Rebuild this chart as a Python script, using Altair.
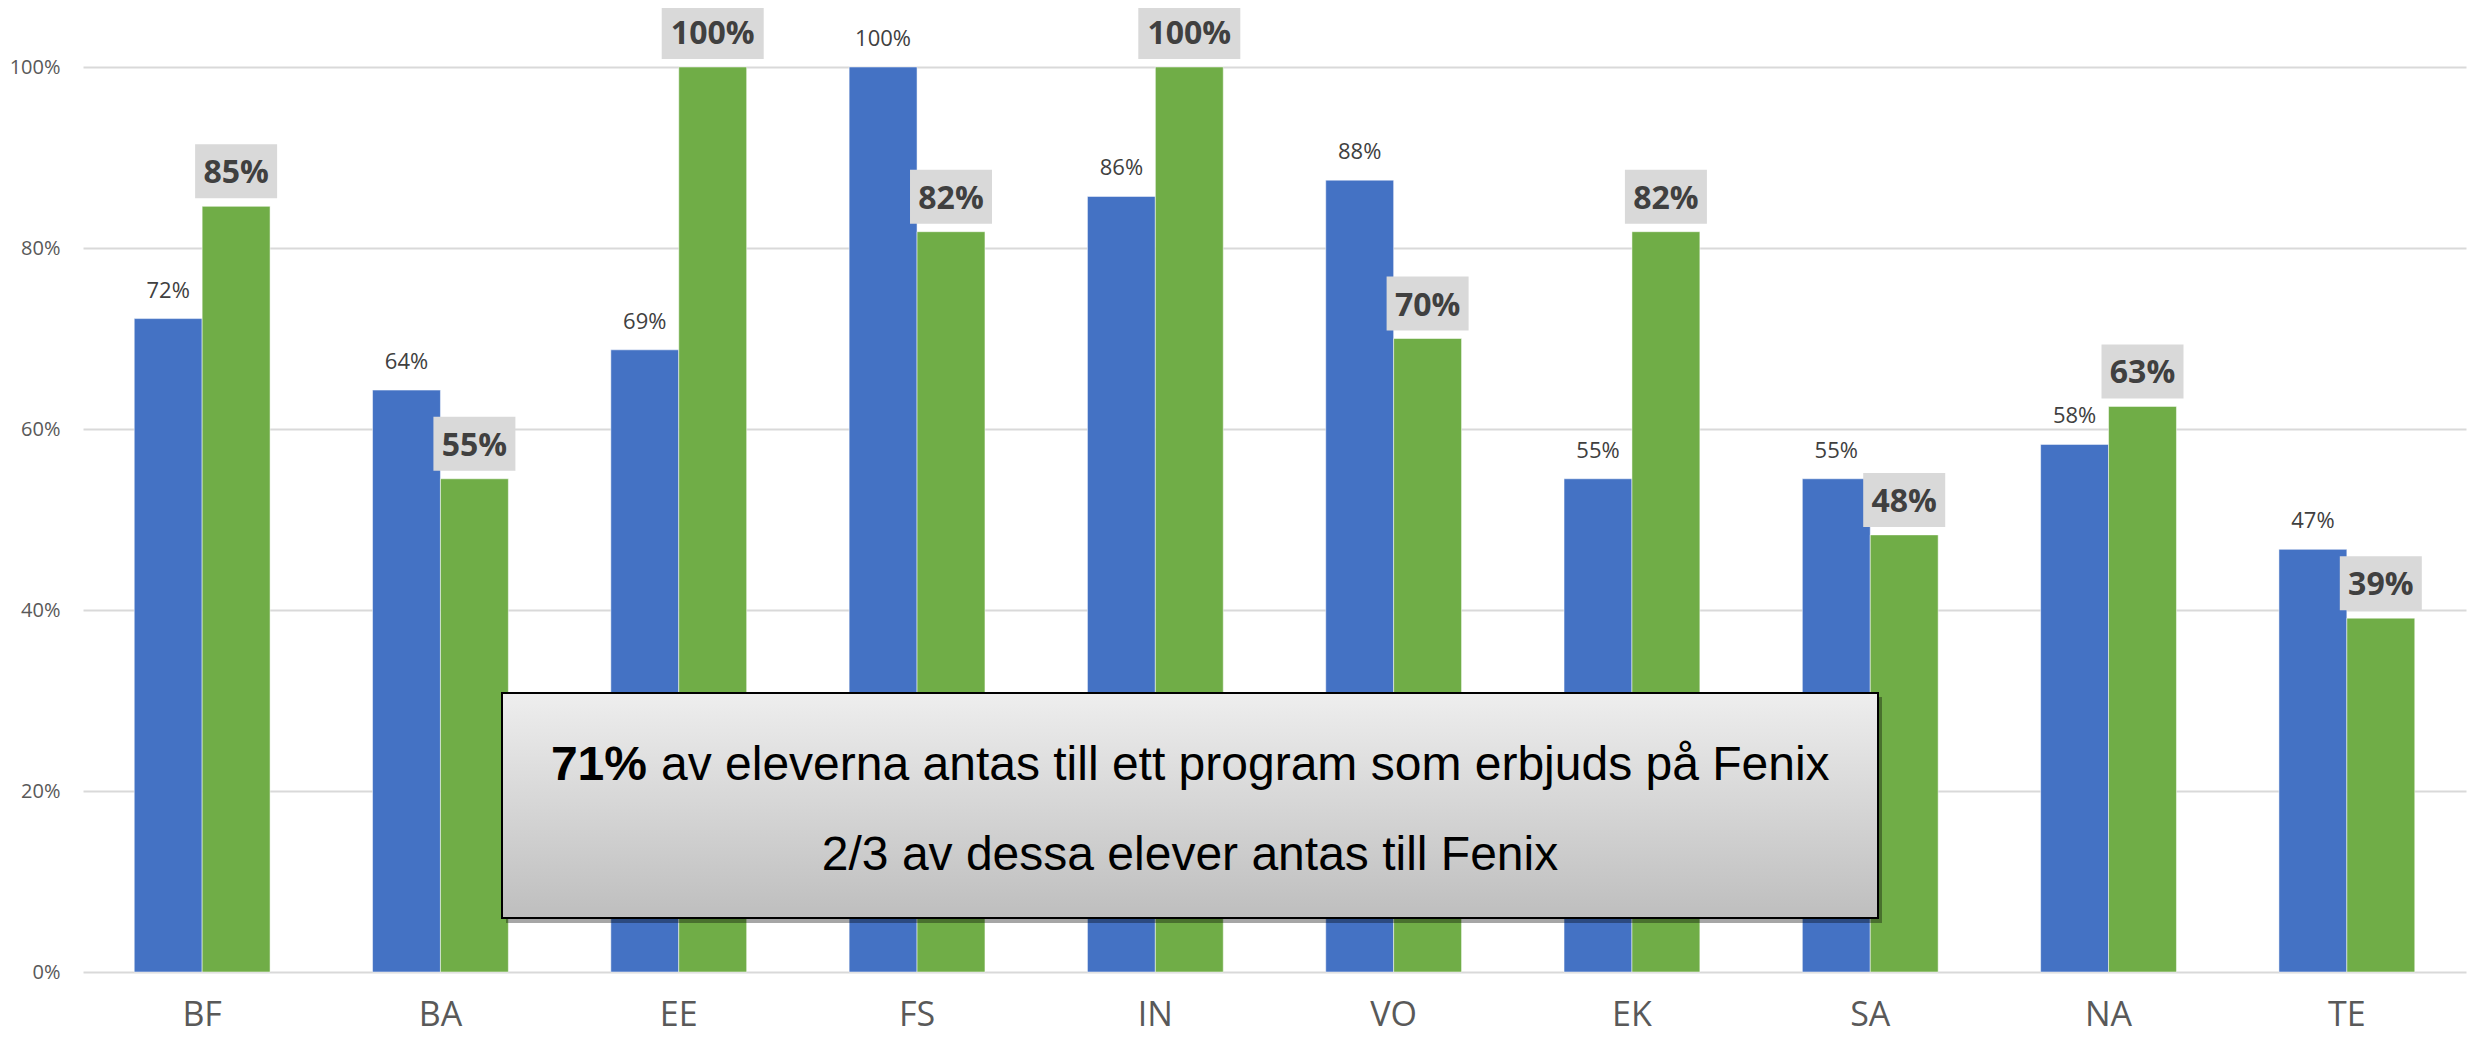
import altair as alt
import pandas as pd

programs = ["BF", "BA", "EE", "FS", "IN", "VO", "EK", "SA", "NA", "TE"]
blue_vals = [0.722, 0.643, 0.6875, 1.0, 0.857, 0.875, 0.545, 0.545, 0.583, 0.467]
green_vals = [0.846, 0.545, 1.0, 0.818, 1.0, 0.70, 0.818, 0.483, 0.625, 0.391]
series = ["Antas till program på Fenix", "Antas till Fenix"]
y_ticks = [0, 0.2, 0.4, 0.6, 0.8, 1.0]
box_line1_bold = "71%"
box_line1_rest = "av eleverna antas till ett program som erbjuds på Fenix"
box_line2 = "2/3 av dessa elever antas till Fenix"

BLUE = "#4472C4"
GREEN = "#70AD47"

rows = []
for p, b, g in zip(programs, blue_vals, green_vals):
    rows.append({"program": p, "serie": series[0], "v": b})
    rows.append({"program": p, "serie": series[1], "v": g})
df = pd.DataFrame(rows)

x_enc = alt.X("program:N", sort=programs,
              scale=alt.Scale(paddingInner=0.43, paddingOuter=0.215),
              axis=alt.Axis(title=None, domain=False, ticks=False, labelAngle=0,
                            labelFontSize=34, labelColor="#595959", labelFont="Open Sans",
                            labelPadding=26))
xo_enc = alt.XOffset("serie:N", sort=series, scale=alt.Scale(paddingInner=0, paddingOuter=0))
y_scale = alt.Scale(domain=[0, 1], nice=False)

base = alt.Chart(df)

bars = base.mark_bar(stroke="#FFFFFF", strokeWidth=1, strokeOpacity=0.5).encode(
    x=x_enc,
    xOffset=xo_enc,
    y=alt.Y("v:Q", scale=y_scale,
            axis=alt.Axis(title=None, values=y_ticks, format=".0%", domain=False, ticks=False,
                          labelFontSize=20, labelColor="#595959", labelFont="Open Sans",
                          labelPadding=23, gridColor="#D9D9D9", gridWidth=2)),
    color=alt.Color("serie:N", sort=series,
                    scale=alt.Scale(domain=series, range=[BLUE, GREEN]), legend=None),
)

blue_lbl = base.transform_filter(alt.datum.serie == series[0]).mark_text(
    baseline="bottom", dy=-16, fontSize=22, font="Open Sans", color="#404040"
).encode(x=x_enc, xOffset=xo_enc, y=alt.Y("v:Q", scale=y_scale),
         text=alt.Text("v:Q", format=".0%"))

green_base = base.transform_filter(alt.datum.serie == series[1]).transform_calculate(
    lbl="format(datum.v, '.0%')"
).transform_calculate(bw="20 * length(datum.lbl) + 22")

green_box = green_base.mark_bar(yOffset=-8, y2Offset=-62, color="#D9D9D9").encode(
    x=x_enc, xOffset=xo_enc,
    y=alt.Y("v:Q", scale=y_scale), y2="v:Q",
    size=alt.Size("bw:Q", scale=None, legend=None),
)

green_lbl = green_base.mark_text(
    baseline="middle", dy=-33, fontSize=32, fontWeight="bold", font="Open Sans", color="#404040"
).encode(x=x_enc, xOffset=xo_enc, y=alt.Y("v:Q", scale=y_scale), text="lbl:N")

one = pd.DataFrame({"a": [0]})
shadow = alt.Chart(one).mark_rect(color="#000000", opacity=0.35).encode(
    x=alt.value(423), x2=alt.value(1799), y=alt.value(630), y2=alt.value(856))
box = alt.Chart(one).mark_rect(
    stroke="#000000", strokeWidth=2,
    fill=alt.Gradient(gradient="linear",
                      stops=[alt.GradientStop(color="#EEEEEE", offset=0),
                             alt.GradientStop(color="#BEBEBE", offset=1)],
                      x1=0, x2=0, y1=0, y2=1),
).encode(x=alt.value(419), x2=alt.value(1795), y=alt.value(626), y2=alt.value(851))

txt_font = "Liberation Sans, Arial"
t1b = alt.Chart(pd.DataFrame({"t": [box_line1_bold]})).mark_text(
    align="right", baseline="middle", fontSize=48, fontWeight="bold", font=txt_font, color="#000000"
).encode(x=alt.value(564), y=alt.value(699), text="t:N")
t1r = alt.Chart(pd.DataFrame({"t": [box_line1_rest]})).mark_text(
    align="left", baseline="middle", fontSize=48, font=txt_font, color="#000000"
).encode(x=alt.value(578), y=alt.value(699), text="t:N")
t2 = alt.Chart(pd.DataFrame({"t": [box_line2]})).mark_text(
    align="center", baseline="middle", fontSize=48, font=txt_font, color="#000000"
).encode(x=alt.value(1107), y=alt.value(789), text="t:N")

chart = alt.layer(bars, blue_lbl, green_box, green_lbl, shadow, box, t1b, t1r, t2).properties(
    width=2383, height=905,
    autosize=alt.AutoSizeParams(type="none"),
    padding={"left": 75, "top": 59, "right": 7, "bottom": 64},
).configure_view(stroke=None)

chart.save("out.html", embed_options={"renderer": "svg", "actions": False})
